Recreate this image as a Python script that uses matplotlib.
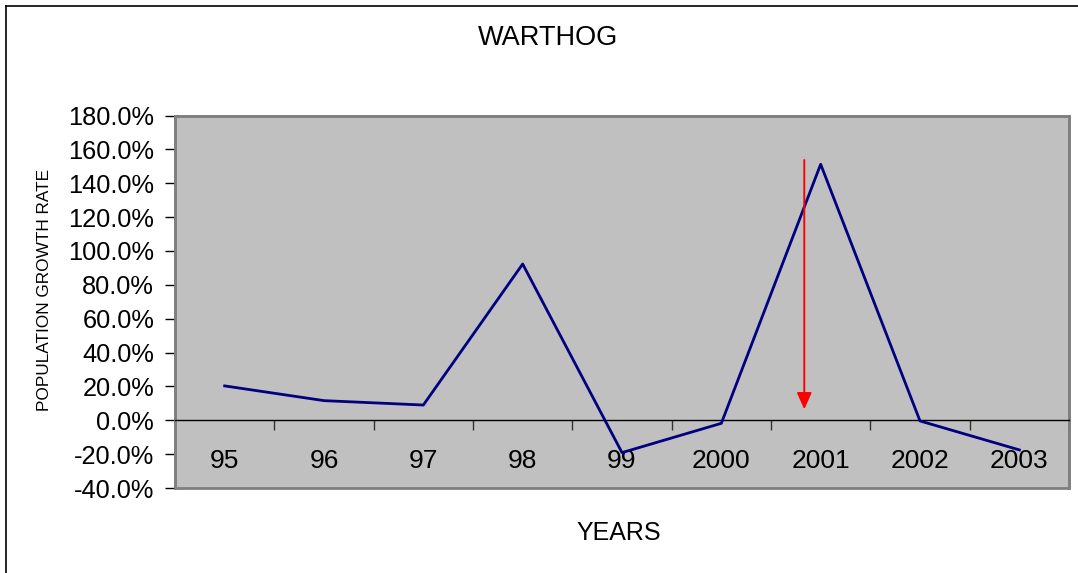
import matplotlib
matplotlib.use("Agg")
import matplotlib.pyplot as plt
from matplotlib.patches import Rectangle
from matplotlib.ticker import FuncFormatter, FixedLocator
from matplotlib.lines import Line2D

years = ["95", "96", "97", "98", "99", "2000", "2001", "2002", "2003"]
growth = [20.3, 11.6, 9.0, 92.3, -19.1, -1.8, 151.2, -0.4, -17.5]
arrow_x = 5.835
arrow_y_start = 153.7
arrow_y_end = 6.5

plt.rcParams['font.family'] = ['Liberation Sans', 'DejaVu Sans']

W, H = 1078, 573
fig = plt.figure(figsize=(W / 100, H / 100), dpi=100)
fig.patch.set_facecolor('white')

# outer chart border (left and top visible)
fig.add_artist(Line2D([6 / W, 6 / W], [-0.1, 1 - 6 / H], transform=fig.transFigure,
                      color='black', lw=1.2))
fig.add_artist(Line2D([6 / W, 1.1], [1 - 6 / H, 1 - 6 / H], transform=fig.transFigure,
                      color='black', lw=1.2))

left, right, top, bottom = 175, 1069, 115.5, 488
ax = fig.add_axes([left / W, 1 - bottom / H, (right - left) / W, (bottom - top) / H])
ax.set_facecolor('#C0C0C0')

x = list(range(len(years)))
ax.plot(x, growth, color='#000080', lw=2.0, zorder=3)

ax.set_xlim(-0.5, len(years) - 0.5)
ax.set_ylim(-40, 180)

# y axis
ax.yaxis.set_major_locator(FixedLocator(list(range(-40, 181, 20))))
ax.yaxis.set_major_formatter(FuncFormatter(lambda v, p: f"{v:.1f}%"))
ax.tick_params(axis='y', direction='out', length=7, width=1, color='black',
               labelsize=18.3, pad=8)

# x axis at zero
ax.spines['bottom'].set_position(('data', 0))
ax.spines['bottom'].set_color('black')
ax.spines['bottom'].set_linewidth(1)
ax.xaxis.set_major_locator(FixedLocator(x))
ax.set_xticklabels(years)
ax.xaxis.set_minor_locator(FixedLocator([i + 0.5 for i in x[:-1]] + [len(years) - 0.5]))
ax.tick_params(axis='x', which='major', length=0, labelsize=19, pad=21)
ax.tick_params(axis='x', which='minor', direction='out', length=7, width=1, color='#333333')

for s in ['top', 'right']:
    ax.spines[s].set_color('#808080')
    ax.spines[s].set_linewidth(2)
ax.spines['left'].set_color('#808080')
ax.spines['left'].set_linewidth(2)

# gray border along bottom of plot area
ax.add_patch(Rectangle((0, 0), 1, 1, transform=ax.transAxes, fill=False,
                       edgecolor='#808080', lw=2, clip_on=False, zorder=1))

# red arrow
ax.annotate('', xy=(arrow_x, arrow_y_end), xytext=(arrow_x, arrow_y_start),
            arrowprops=dict(arrowstyle='-|>,head_width=0.45,head_length=1.0',
                            color='#FF0000', lw=1.4, shrinkA=0, shrinkB=0),
            zorder=4)

fig.text(548 / W, 1 - 38 / H, 'WARTHOG', ha='center', va='center', fontsize=19.5)
fig.text(619 / W, 1 - 533 / H, 'YEARS', ha='center', va='center', fontsize=18)
fig.text(45 / W, 1 - 290 / H, 'POPULATION GROWTH RATE', ha='center', va='center',
         rotation=90, fontsize=12.4)

fig.savefig('out.png', dpi=100, facecolor='white')
